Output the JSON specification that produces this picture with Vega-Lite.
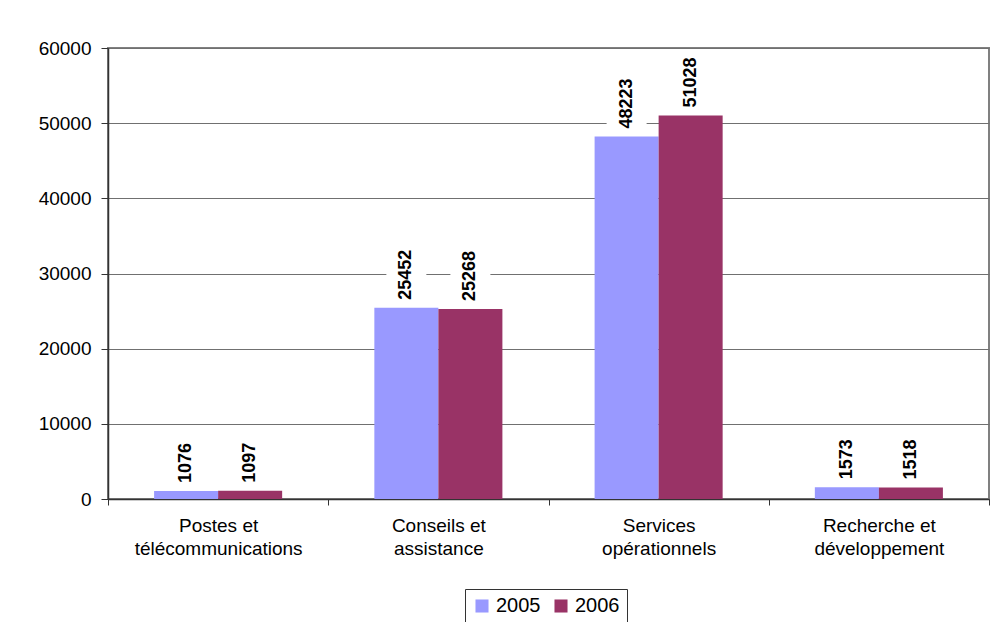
{
  "$schema": "https://vega.github.io/schema/vega-lite/v6.json",
  "width": 881,
  "height": 451,
  "autosize": {"type": "none"},
  "padding": {"left": 108, "top": 48, "right": 2, "bottom": 123},
  "background": "white",
  "data": {
    "values": [
      {"categorie": "Postes et télécommunications", "annee": "2005", "valeur": 1076},
      {"categorie": "Postes et télécommunications", "annee": "2006", "valeur": 1097},
      {"categorie": "Conseils et assistance", "annee": "2005", "valeur": 25452},
      {"categorie": "Conseils et assistance", "annee": "2006", "valeur": 25268},
      {"categorie": "Services opérationnels", "annee": "2005", "valeur": 48223},
      {"categorie": "Services opérationnels", "annee": "2006", "valeur": 51028},
      {"categorie": "Recherche et développement", "annee": "2005", "valeur": 1573},
      {"categorie": "Recherche et développement", "annee": "2006", "valeur": 1518}
    ]
  },
  "encoding": {
    "x": {
      "field": "categorie",
      "type": "nominal",
      "sort": null,
      "scale": {"paddingInner": 0, "paddingOuter": 0},
      "axis": {
        "title": null,
        "labelAngle": 0,
        "tickBand": "extent",
        "tickSize": 6,
        "tickColor": "#333333",
        "domainColor": "#333333",
        "domainWidth": 1.5,
        "labelFontSize": 19,
        "labelColor": "black",
        "labelPadding": 11,
        "labelLineHeight": 23,
        "grid": false,
        "labelExpr": "!isString(datum.label) ? '' : (indexof(datum.label, ' et ') > 0 ? [slice(datum.label, 0, indexof(datum.label, ' et ') + 3), slice(datum.label, indexof(datum.label, ' et ') + 4)] : split(datum.label, ' '))"
      }
    },
    "xOffset": {
      "field": "annee",
      "type": "nominal",
      "scale": {"paddingInner": 0, "paddingOuter": 0.72}
    },
    "y": {
      "field": "valeur",
      "type": "quantitative",
      "stack": null,
      "scale": {"domain": [0, 60000], "nice": false},
      "axis": {
        "title": null,
        "values": [0, 10000, 20000, 30000, 40000, 50000, 60000],
        "format": "d",
        "grid": true,
        "gridColor": "#707070",
        "gridWidth": 1,
        "tickSize": 7,
        "tickColor": "#333333",
        "domainColor": "#333333",
        "domainWidth": 1.5,
        "labelFontSize": 19,
        "labelColor": "black",
        "labelPadding": 10
      }
    }
  },
  "layer": [
    {
      "mark": {"type": "bar"},
      "encoding": {
        "color": {
          "field": "annee",
          "type": "nominal",
          "scale": {"domain": ["2005", "2006"], "range": ["#9999FF", "#993366"]},
          "legend": {
            "orient": "none",
            "legendX": 357,
            "legendY": 541,
            "direction": "horizontal",
            "title": null,
            "strokeColor": "#333333",
            "padding": 7,
            "symbolType": "square",
            "symbolSize": 170,
            "symbolStrokeWidth": 0,
            "labelFontSize": 20,
            "labelColor": "black",
            "columnPadding": 10
          }
        }
      }
    },
    {
      "mark": {"type": "bar", "color": "white", "width": 40, "yOffset": -4, "y2Offset": -60},
      "encoding": {"y2": {"field": "valeur"}}
    },
    {
      "mark": {
        "type": "text",
        "angle": 270,
        "align": "left",
        "baseline": "middle",
        "dx": 8,
        "dy": 0,
        "fontWeight": "bold",
        "fontSize": 18,
        "color": "black"
      },
      "encoding": {
        "text": {"field": "valeur", "type": "quantitative", "format": "d"}
      }
    }
  ],
  "config": {
    "font": "Liberation Sans",
    "view": {"stroke": "#808080", "strokeWidth": 2}
  }
}
